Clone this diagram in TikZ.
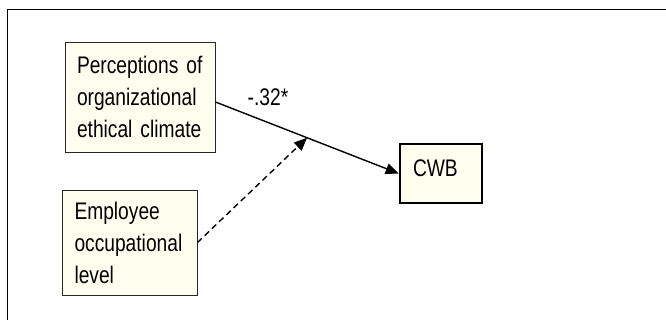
\documentclass[tikz,border=0pt]{standalone}
\usepackage{fontspec}
\setmainfont{Liberation Sans}[FakeStretch=0.8]
\usetikzlibrary{arrows.meta,calc}
\definecolor{boxfill}{RGB}{255,255,240}
\tikzset{
  varbox/.style={draw=black!85, line width=0.9pt, fill=boxfill, inner sep=0pt,
    font=\fontsize{24}{32}\selectfont, align=left},
  outbox/.style={draw=black, line width=2.6pt, fill=boxfill, inner xsep=13pt,
    inner ysep=15pt, text height=17.2pt, text depth=11.8pt, minimum width=82pt,
    text width=56pt, align=left, font=\fontsize{24}{32}\selectfont},
  path/.style={line width=1.4pt, -{Triangle[length=13pt,width=11pt]}},
  modpath/.style={path, dash pattern=on 6pt off 4pt},
}
\begin{document}
\begin{tikzpicture}[x=1pt,y=1pt]
\useasboundingbox (0,0) rectangle (666,320);
\draw[line width=1pt] (7,0) -- (7,310) -- (666,310);
\node[varbox, minimum width=150pt, minimum height=110pt, text width=126pt] (p) at (140,223)
  {Perceptions of\\organizational\\ethical climate};
\node[varbox, minimum width=135pt, minimum height=105pt, text width=110pt] (e) at (129.5,77.5)
  {Employee\\occupational\\level};
\node[outbox] (c) at (441,146.5) {CWB};
\coordinate (s) at ([yshift=-5pt]p.east);
\draw[path] (s) -- (c.west);
\coordinate (m) at ($(s)!0.5!(c.west)$);
\draw[modpath] (e.east) -- (m);
\node[font=\fontsize{24}{32}\selectfont, inner sep=0pt] (lbl) at (268,223) {-.32*};
\end{tikzpicture}
\end{document}
